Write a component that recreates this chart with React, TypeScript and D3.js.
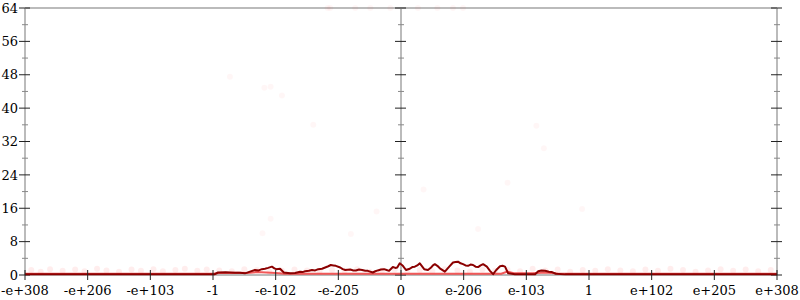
import React from "react";
import * as d3 from "d3";

const tickLabels = ["-e+308", "-e+206", "-e+103", "-1", "-e-102", "-e-205", "0", "e-206", "e-103", "1", "e+102", "e+205", "e+308"];
const tickPositions = [-6, -5, -4, -3, -2, -1, 0, 1, 2, 3, 4, 5, 6];
const yMajorTicks = [0, 8, 16, 24, 32, 40, 48, 56, 64];
const yMinorTicks = [4, 12, 20, 28, 36, 44, 52, 60];

// averaged error line (x in axis units, y in bits)
const lineX = [-6, -3.21, -2.97, -2.92, -2.80, -2.73, -2.65, -2.57, -2.49, -2.41, -2.33, -2.27, -2.22, -2.17, -2.12, -2.06, -2.02, -1.99, -1.93, -1.87, -1.77, -1.69, -1.61, -1.57, -1.53, -1.47, -1.42, -1.37, -1.32, -1.26, -1.21, -1.16, -1.12, -1.08, -1.04, -0.97, -0.93, -0.89, -0.81, -0.76, -0.72, -0.67, -0.62, -0.57, -0.53, -0.45, -0.41, -0.37, -0.32, -0.27, -0.23, -0.19, -0.13, -0.09, -0.06, -0.02, 0.03, 0.08, 0.14, 0.18, 0.22, 0.26, 0.3, 0.37, 0.43, 0.48, 0.51, 0.54, 0.58, 0.62, 0.7, 0.77, 0.83, 0.87, 0.91, 0.95, 0.99, 1.03, 1.07, 1.11, 1.15, 1.19, 1.23, 1.27, 1.31, 1.37, 1.42, 1.47, 1.52, 1.58, 1.62, 1.66, 1.71, 1.82, 2.14, 2.19, 2.24, 2.3, 2.36, 2.41, 2.47, 2.62, 6];
const lineY = [0.15, 0.15, 0.2, 0.6, 0.65, 0.6, 0.55, 0.55, 0.4, 0.8, 1.2, 1.1, 1.4, 1.5, 1.7, 2.0, 1.6, 1.4, 1.5, 0.6, 0.4, 0.5, 0.8, 0.7, 0.9, 1.0, 1.2, 1.1, 1.4, 1.5, 1.8, 2.1, 2.4, 2.3, 2.2, 1.8, 1.4, 1.2, 1.3, 1.1, 1.1, 1.3, 1.2, 1.0, 1.0, 0.6, 0.9, 1.1, 1.3, 1.4, 1.2, 1.0, 1.9, 1.7, 1.8, 2.8, 2.2, 1.2, 1.5, 1.9, 2.0, 2.3, 2.8, 1.4, 1.2, 1.8, 2.3, 2.6, 2.2, 1.6, 0.8, 2.0, 3.0, 3.1, 3.2, 2.8, 2.6, 2.3, 2.2, 2.5, 2.4, 2.0, 1.9, 2.3, 2.6, 2.0, 1.0, 0.2, 1.2, 2.1, 2.2, 2.0, 0.4, 0.2, 0.2, 0.9, 1.1, 1.0, 0.8, 0.7, 0.3, 0.15, 0.15];

// secondary (bright) line near zero
const line2X = [-6, -3.0, -2.9, -2.6, -2.45, -2.3, -2.15, -2.0, -1.85, 1.6, 1.7, 1.8, 2.1, 2.3, 2.5, 6];
const line2Y = [0.3, 0.3, 0.5, 0.55, 0.5, 0.7, 0.6, 0.5, 0.3, 0.3, 0.8, 0.4, 0.4, 0.6, 0.35, 0.3];

// scattered sample points
const ptsX = [-2.73, -2.18, -2.08, -1.90, -1.40, -0.39, -2.08, -2.21, -0.80, 2.16, 2.28, 0.36, 1.70, 2.89, 1.23, -1.17, -1.13, -0.73, -0.49, -0.17, 0.27, 0.58, 0.83, 0.99];
const ptsY = [47.5, 44.9, 45.1, 43.0, 36.0, 15.2, 13.5, 10.0, 9.8, 35.8, 30.4, 20.5, 22.1, 15.8, 11.0, 64, 64, 64, 64, 64, 64, 64, 64, 64];

// dense band of samples close to zero
const bandX = [-5.9, -5.75, -5.6, -5.4, -5.2, -5.05, -4.85, -4.7, -4.5, -4.3, -4.15, -3.95, -3.8, -3.6, -3.45, -3.25, -3.1, -2.9, -2.7, -2.5, -2.3, -2.1, -1.9, -1.7, -1.5, -1.3, -1.1, -0.9, -0.7, -0.5, -0.3, -0.1, 0.1, 0.3, 0.5, 0.7, 0.9, 1.1, 1.3, 1.5, 1.7, 1.9, 2.1, 2.3, 2.5, 2.7, 2.9, 3.1, 3.3, 3.5, 3.7, 3.9, 4.1, 4.3, 4.5, 4.7, 4.9, 5.1, 5.3, 5.5, 5.7, 5.9];
const bandY = [1.2, 0.8, 1.4, 1.0, 1.3, 0.9, 1.5, 1.1, 0.8, 1.3, 1.0, 1.4, 0.9, 1.2, 1.5, 1.0, 1.3, 1.1, 0.9, 1.4, 1.2, 0.8, 1.0, 1.3, 1.1, 0.9, 1.2, 1.0, 1.4, 0.8, 1.1, 1.3, 1.0, 1.2, 0.9, 1.4, 1.1, 0.8, 1.3, 1.0, 1.2, 0.9, 1.5, 1.1, 1.3, 0.8, 1.2, 1.0, 1.4, 1.1, 0.9, 1.3, 1.0, 1.5, 1.2, 0.8, 1.1, 1.4, 1.0, 1.3, 0.9, 1.2];

const W = 800;
const H = 300;
const left = 25;
const right = 777;
const top = 8;
const bottom = 275;

export default function App() {
  const x = d3.scaleLinear().domain([-6, 6]).range([left, right]);
  const y = d3.scaleLinear().domain([0, 64]).range([bottom, top]);
  const line = d3.line<number>().x((_, i) => x(lineX[i])).y((d) => y(d)).curve(d3.curveLinear);
  const line2 = d3.line<number>().x((_, i) => x(line2X[i])).y((d) => y(d));
  const axisXs = [x(-6), x(0), x(6)];
  const font = "DejaVu Serif";

  return (
    <svg width={W} height={H} style={{ position: "absolute", left: 0, top: 0, background: "#fff" }}>
      {/* gray frame lines */}
      <line x1={left} x2={right} y1={top} y2={top} stroke="#bbb" strokeWidth={2} />
      {axisXs.map((ax, i) => (
        <line key={"ax" + i} x1={ax} x2={ax} y1={top} y2={bottom} stroke="#bbb" strokeWidth={2} />
      ))}
      <line x1={left} x2={right} y1={bottom} y2={bottom} stroke="#bbb" strokeWidth={2} />

      {/* y ticks on three vertical axes */}
      {axisXs.map((ax, i) => (
        <g key={"yt" + i}>
          {yMajorTicks.map((t) => (
            <line key={"M" + t} x1={ax - 6} x2={ax + 5} y1={y(t)} y2={y(t)} stroke="#222" strokeWidth={1} />
          ))}
          {yMinorTicks.map((t) => (
            <line key={"m" + t} x1={ax - 3} x2={ax + 3} y1={y(t)} y2={y(t)} stroke="#888" strokeWidth={1} />
          ))}
        </g>
      ))}
      {yMajorTicks.map((t) => (
        <text key={"yl" + t} x={18} y={y(t)} dy="0.36em" textAnchor="end" fontFamily={font} fontSize={13} fill="#000">
          {t}
        </text>
      ))}

      {/* sample points */}
      {bandX.map((bx, i) => (
        <circle key={"b" + i} cx={x(bx)} cy={y(bandY[i])} r={3} fill="#f00" fillOpacity={0.07} />
      ))}
      {ptsX.map((px, i) => (
        <circle key={"p" + i} cx={x(px)} cy={y(ptsY[i])} r={3} fill="#f00" fillOpacity={0.035} />
      ))}

      {/* lines */}
      <path d={line2(line2Y) || ""} fill="none" stroke="#f03c3c" strokeOpacity={0.85} strokeWidth={2} />
      <path d={line(lineY) || ""} fill="none" stroke="#8b0000" strokeWidth={2} strokeLinejoin="round" />

      {/* x ticks */}
      {tickPositions.map((p, i) => (
        <g key={"xt" + i}>
          <line x1={x(p)} x2={x(p)} y1={bottom - 5} y2={bottom + 5} stroke="#222" strokeWidth={1} />
          <text x={x(p)} y={295} textAnchor="middle" fontFamily={font} fontSize={13} fill="#000">
            {tickLabels[i]}
          </text>
        </g>
      ))}
    </svg>
  );
}
